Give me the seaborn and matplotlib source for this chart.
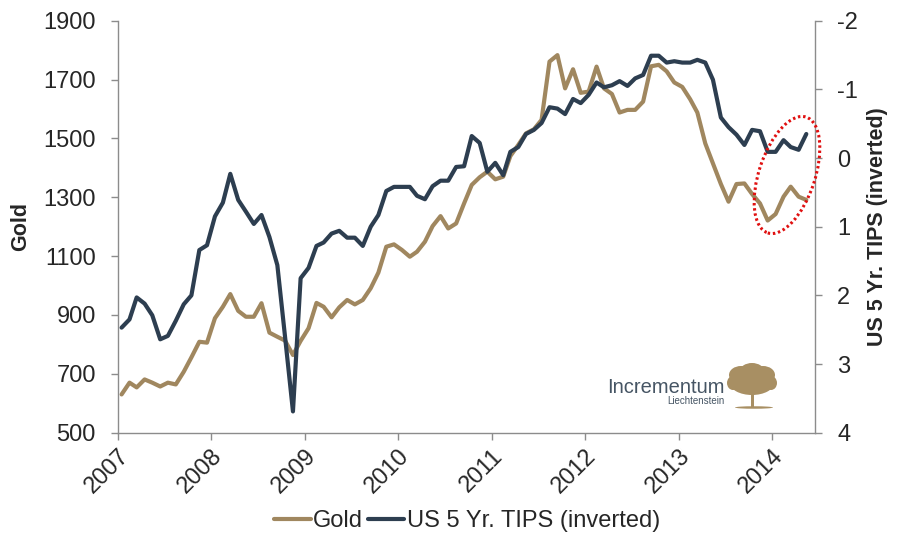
import matplotlib
matplotlib.use("Agg")
import matplotlib.pyplot as plt
import matplotlib.transforms as mtransforms
from matplotlib.patches import Ellipse, Rectangle
import numpy as np
import pandas as pd
import seaborn as sns

# ---------------- data (monthly, Jan 2007 - May 2014) ----------------
gold = [630, 670, 654, 681, 670, 657, 670, 664, 707, 756, 809, 806,
        889, 928, 971, 914, 894, 894, 940, 840, 826, 813, 764, 812,
        855, 941, 928, 892, 926, 951, 936, 951, 991, 1044, 1132, 1140,
        1121, 1098, 1115, 1149, 1202, 1236, 1194, 1211, 1279, 1342, 1368, 1387,
        1361, 1370, 1440, 1478, 1517, 1531, 1563, 1761, 1783, 1670, 1735, 1655,
        1659, 1744, 1670, 1651, 1588, 1597, 1597, 1625, 1745, 1750, 1728, 1690,
        1675, 1633, 1588, 1483, 1415, 1345, 1285, 1345, 1347, 1311, 1279, 1221,
        1243, 1302, 1336, 1302, 1291]
tips = [2.47, 2.35, 2.03, 2.12, 2.29, 2.64, 2.59, 2.37, 2.13, 2.00, 1.34, 1.27,
        0.85, 0.65, 0.23, 0.61, 0.78, 0.96, 0.83, 1.15, 1.56, 2.60, 3.69, 1.75,
        1.60, 1.28, 1.23, 1.10, 1.06, 1.16, 1.16, 1.28, 1.00, 0.83, 0.48, 0.42,
        0.42, 0.42, 0.55, 0.60, 0.41, 0.33, 0.33, 0.13, 0.12, -0.32, -0.22, 0.20,
        0.07, 0.25, -0.09, -0.16, -0.35, -0.41, -0.51, -0.74, -0.72, -0.64, -0.86, -0.80,
        -0.92, -1.10, -1.03, -1.06, -1.12, -1.05, -1.16, -1.21, -1.49, -1.49, -1.39, -1.41,
        -1.39, -1.39, -1.43, -1.39, -1.14, -0.59, -0.45, -0.34, -0.19, -0.41, -0.39, -0.09,
        -0.09, -0.26, -0.16, -0.12, -0.35]
start_month = "2007-01-01"
years = [2007, 2008, 2009, 2010, 2011, 2012, 2013, 2014]
gold_ticks = [500, 700, 900, 1100, 1300, 1500, 1700, 1900]
tips_ticks = [-2, -1, 0, 1, 2, 3, 4]

dates = pd.date_range(start_month, periods=len(gold), freq="MS") + pd.Timedelta(days=14)
df = pd.DataFrame({"date": dates, "Gold": gold, "TIPS": tips})

GOLD_C = "#A0875F"
TIPS_C = "#2D3E50"
GRAY = "#8C8C8C"

sns.set_style("white")
plt.rcParams["font.family"] = ["Liberation Sans", "DejaVu Sans"]

fig = plt.figure(figsize=(8.98, 5.36), dpi=100)
ax = fig.add_axes([118 / 898, 1 - 432.7 / 536, 697 / 898, 412 / 536])
ax2 = ax.twinx()

sns.lineplot(data=df, x="date", y="Gold", ax=ax, color=GOLD_C, lw=3, label="Gold", legend=False)
sns.lineplot(data=df, x="date", y="TIPS", ax=ax2, color=TIPS_C, lw=3,
             label="US 5 Yr. TIPS (inverted)", legend=False)

ax.set_xlim(pd.Timestamp("2007-01-01"), pd.Timestamp("2014-06-18"))
ax.set_ylim(500, 1900)
ax2.set_ylim(4, -2)

ax.set_xticks([pd.Timestamp(f"{y}-01-01") for y in years])
ax.set_xticklabels([str(y) for y in years], rotation=45, ha="right",
                   rotation_mode="anchor", fontsize=17)
ax.set_yticks(gold_ticks)
ax.set_yticklabels([str(v) for v in gold_ticks], fontsize=17)
ax2.set_yticks(tips_ticks)
ax2.set_yticklabels([str(v) for v in tips_ticks], fontsize=17)

ax.set_xlabel("")
ax.set_ylabel("Gold", fontsize=15.5, fontweight="bold")
ax2.set_ylabel("US 5 Yr. TIPS (inverted)", fontsize=15.5, fontweight="bold", rotation=90)
ax.yaxis.set_label_coords(-0.124, 0.5)
ax2.yaxis.set_label_coords(1.074, 0.5)

for a in (ax, ax2):
    a.spines["top"].set_visible(False)
    for s in ("left", "right", "bottom"):
        a.spines[s].set_color(GRAY)
        a.spines[s].set_linewidth(1.0)
    a.grid(False)
ax.spines["right"].set_visible(False)
ax2.spines["left"].set_visible(False)
ax2.spines["bottom"].set_visible(False)

ax.tick_params(axis="y", direction="out", length=5, width=1, color=GRAY, pad=11, left=True)
ax.tick_params(axis="x", direction="out", length=5, width=1, color=GRAY, pad=4, bottom=True)
ax2.tick_params(axis="y", direction="out", length=5, width=1, color=GRAY, pad=11, right=True)

# legend
h1, l1 = ax.get_legend_handles_labels()
h2, l2 = ax2.get_legend_handles_labels()
fig.legend(h1 + h2, l1 + l2, loc="center", bbox_to_anchor=(467 / 898, 1 - 521 / 536),
           ncol=2, frameon=False, fontsize=17, handlelength=1.55, handletextpad=0.1,
           columnspacing=0.2)

ident = mtransforms.IdentityTransform()
H = 536

# red dotted ellipse highlight
fig.add_artist(Ellipse((787, H - 175), width=56, height=122, angle=-18.4,
                       transform=ident, fill=False, edgecolor="#E01010", lw=2.2,
                       linestyle=(0, (0.8, 0.9)), zorder=10))

# logo
fig.text(725 / 898, 1 - 393 / 536, "Incrementum", fontsize=14.5, color="#465564",
         ha="right", va="baseline")
fig.text(725 / 898, 1 - 404 / 536, "Liechtenstein", fontsize=7, color="#465564",
         ha="right", va="baseline")
TREE_C = "#A88F63"
crown = [(752, 383, 22, 12), (741, 375, 12, 9), (763, 375, 12, 9),
         (752, 371, 12, 8), (733, 383, 6, 7), (771, 383, 6, 7)]
for cx, cy, w, h in crown:
    fig.add_artist(Ellipse((cx, H - cy), width=2 * w, height=2 * h, transform=ident,
                           facecolor=TREE_C, edgecolor="none", zorder=5))
fig.add_artist(Rectangle((750.5, H - 407), 3.5, 14, transform=ident,
                         facecolor=TREE_C, edgecolor="none", zorder=5))
fig.add_artist(Ellipse((754, H - 407.5), width=38, height=2.5, transform=ident,
                       facecolor=TREE_C, edgecolor="none", zorder=5))

fig.savefig("out.png", dpi=100)
